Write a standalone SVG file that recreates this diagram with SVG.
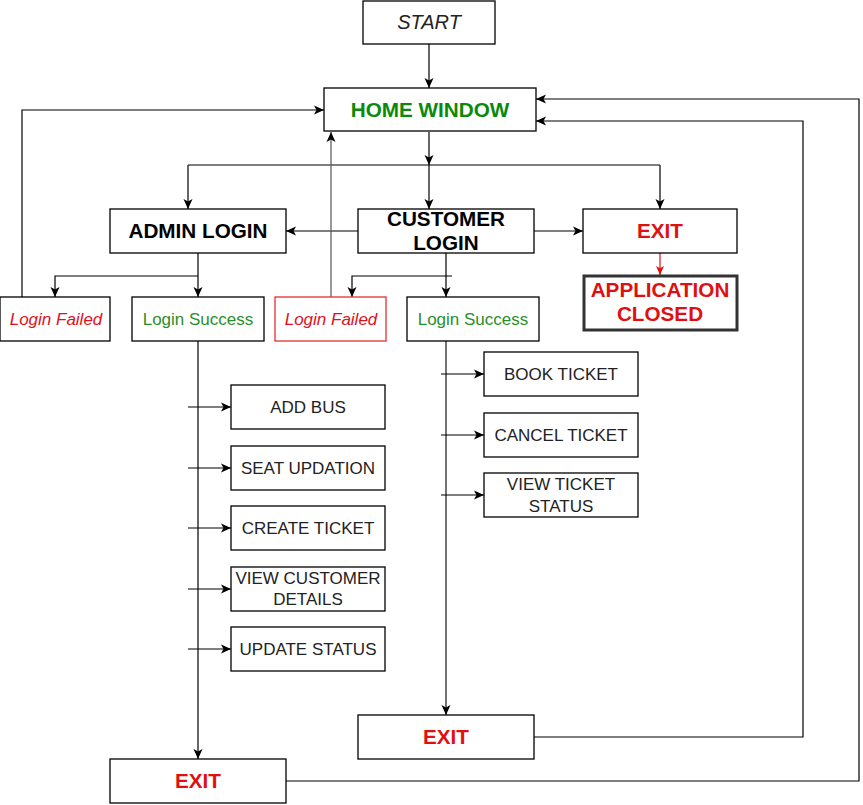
<svg xmlns="http://www.w3.org/2000/svg" width="863" height="805" viewBox="0 0 863 805">
<style>
.box{fill:#fff;stroke:#000;stroke-width:1.3}
.t{font-family:"Liberation Sans",Arial,sans-serif;text-anchor:middle}
.b{font-weight:bold;font-size:20.7px}
.m{font-size:17px;fill:#222}
.red{fill:#e01010}
.grn{fill:#0a8a0a}
.lg{fill:#2a8f2a;font-size:17px}
.lf{fill:#e01020;font-size:17px;font-style:italic}
.c{fill:none;stroke:#000;stroke-width:1.2}
</style>
<defs>
<marker id="a" viewBox="0 0 10 10" refX="10" refY="5" markerWidth="10" markerHeight="10" markerUnits="userSpaceOnUse" orient="auto"><path d="M0,0.5 L10,5 L0,9.5 L2.5,5 Z" fill="#000"/></marker>
<marker id="ar" viewBox="0 0 10 10" refX="10" refY="5" markerWidth="9" markerHeight="9" markerUnits="userSpaceOnUse" orient="auto"><path d="M0,0.5 L10,5 L0,9.5 L2.5,5 Z" fill="#e01010"/></marker>
</defs>
<rect width="863" height="805" fill="#fff"/>
<g id="connectors">
<path class="c" d="M429,44 V88" marker-end="url(#a)"/>
<path class="c" d="M429,132 V165" marker-end="url(#a)"/>
<path class="c" d="M188,165 H660"/>
<path class="c" d="M188,165 V209" marker-end="url(#a)"/>
<path class="c" d="M429,165 V209" marker-end="url(#a)"/>
<path class="c" d="M660,165 V209" marker-end="url(#a)"/>
<path class="c" d="M358,231 H286" marker-end="url(#a)"/>
<path class="c" d="M534,231 H583" marker-end="url(#a)"/>
<path class="c" d="M660,253 V275" style="stroke:#e01010" marker-end="url(#ar)"/>
<path class="c" d="M198,253 V297" marker-end="url(#a)"/>
<path class="c" d="M198,276 H55 V297" marker-end="url(#a)"/>
<path class="c" d="M446,253 V297" marker-end="url(#a)"/>
<path class="c" d="M452,276 H352 V297" marker-end="url(#a)"/>
<path class="c" d="M22,297 V110 H324" marker-end="url(#a)"/>
<path class="c" d="M331,297 V132" marker-end="url(#a)" style="stroke:#555"/>
<path class="c" d="M198,341 V759" marker-end="url(#a)"/>
<path class="c" d="M188,407 H231" marker-end="url(#a)"/>
<path class="c" d="M188,468 H231" marker-end="url(#a)"/>
<path class="c" d="M188,528 H231" marker-end="url(#a)"/>
<path class="c" d="M188,589 H231" marker-end="url(#a)"/>
<path class="c" d="M188,649 H231" marker-end="url(#a)"/>
<path class="c" d="M446,341 V715" marker-end="url(#a)" style="stroke:#444;stroke-width:1.5"/>
<path class="c" d="M441,374 H484" marker-end="url(#a)"/>
<path class="c" d="M441,435 H484" marker-end="url(#a)"/>
<path class="c" d="M441,495 H484" marker-end="url(#a)"/>
<path class="c" d="M534,737 H803 V121 H536" marker-end="url(#a)"/>
<path class="c" d="M286,781 H859 V99 H536" marker-end="url(#a)"/>
</g>
<g id="start"><rect class="box" x="363" y="1" width="132" height="43"/><text class="t" x="429" y="29" font-size="20" font-style="italic" fill="#222">START</text></g>
<g id="home"><rect class="box" x="324" y="88" width="212" height="43"/><text class="t b grn" x="430" y="117">HOME WINDOW</text></g>
<g id="admin-login"><rect class="box" x="110" y="209" width="176" height="44"/><text class="t b" x="198" y="238">ADMIN LOGIN</text></g>
<g id="customer-login"><rect class="box" x="358" y="209" width="176" height="44"/><text class="t b" x="446" y="226">CUSTOMER</text><text class="t b" x="446" y="250">LOGIN</text></g>
<g id="exit-top"><rect class="box" x="583" y="209" width="154" height="44"/><text class="t b red" x="660" y="238">EXIT</text></g>
<g id="app-closed"><rect x="584" y="276" width="153" height="54" fill="#fff" stroke="#333" stroke-width="3"/><text class="t b red" x="660" y="297">APPLICATION</text><text class="t b red" x="660" y="321">CLOSED</text></g>
<g id="admin-failed"><rect class="box" x="0" y="297" width="110" height="44"/><text class="t lf" x="56" y="325">Login Failed</text></g>
<g id="admin-success"><rect class="box" x="132" y="297" width="132" height="44"/><text class="t lg" x="198" y="325">Login Success</text></g>
<g id="cust-failed"><rect x="275" y="297" width="111" height="44" fill="#fff" stroke="#e03030" stroke-width="1.3"/><text class="t lf" x="331" y="325">Login Failed</text></g>
<g id="cust-success"><rect class="box" x="407" y="297" width="132" height="44"/><text class="t lg" x="473" y="325">Login Success</text></g>
<g id="add-bus"><rect class="box" x="231" y="385" width="154" height="44"/><text class="t m" x="308" y="413">ADD BUS</text></g>
<g id="seat-updation"><rect class="box" x="231" y="446" width="154" height="44"/><text class="t m" x="308" y="474">SEAT UPDATION</text></g>
<g id="create-ticket"><rect class="box" x="231" y="506" width="154" height="44"/><text class="t m" x="308" y="534">CREATE TICKET</text></g>
<g id="view-customer"><rect class="box" x="231" y="567" width="154" height="44"/><text class="t m" x="308" y="584">VIEW CUSTOMER</text><text class="t m" x="308" y="605">DETAILS</text></g>
<g id="update-status"><rect class="box" x="231" y="627" width="154" height="44"/><text class="t m" x="308" y="655">UPDATE STATUS</text></g>
<g id="book-ticket"><rect class="box" x="484" y="352" width="154" height="44"/><text class="t m" x="561" y="380">BOOK TICKET</text></g>
<g id="cancel-ticket"><rect class="box" x="484" y="413" width="154" height="44"/><text class="t m" x="561" y="441">CANCEL TICKET</text></g>
<g id="view-ticket"><rect class="box" x="484" y="473" width="154" height="44"/><text class="t m" x="561" y="490">VIEW TICKET</text><text class="t m" x="561" y="512">STATUS</text></g>
<g id="exit-customer"><rect class="box" x="358" y="715" width="176" height="44"/><text class="t b red" x="446" y="744">EXIT</text></g>
<g id="exit-admin"><rect class="box" x="110" y="759" width="176" height="44"/><text class="t b red" x="198" y="788">EXIT</text></g>
</svg>
